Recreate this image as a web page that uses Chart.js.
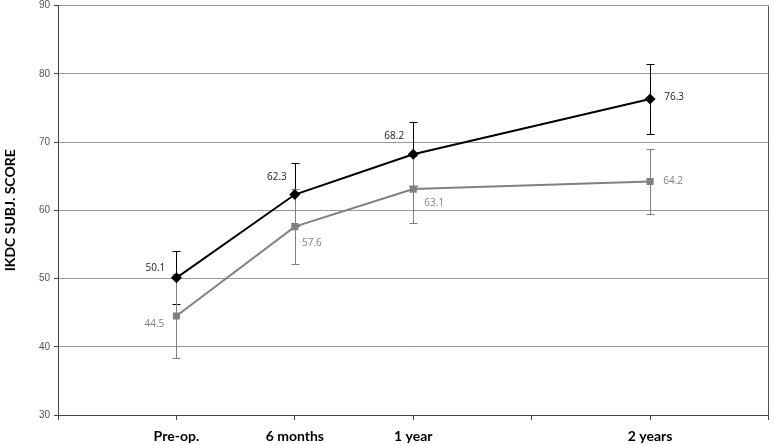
<!DOCTYPE html>
<html>
<head>
<meta charset="utf-8">
<script src="https://cdn.jsdelivr.net/npm/chart.js@4"></script>
<style>
  body { margin: 0; background: #fff; }
  #wrap { width: 774px; height: 445px; position: relative; }
</style>
</head>
<body>
<div id="wrap"><canvas id="chart"></canvas></div>
<script>
// months after surgery, with their axis labels
const months = [0, 6, 12, 24];
const monthLabels = { 0: 'Pre-op.', 6: '6 months', 12: '1 year', 24: '2 years' };

// black series (diamonds)
const scoreA = [50.1, 62.3, 68.2, 76.3];
const errA = [3.9, 4.6, 4.7, 5.1];
// grey series (squares)
const scoreB = [44.5, 57.6, 63.1, 64.2];
const errB = [6.1, 5.5, 4.9, 4.8];

const BLACK = '#000000';
const GREY = '#808080';

// where each value label sits relative to its point (px)
const labelOffsets = [
    [[-21, -10], [-18, -17], [-19, -18], [24, -2]],
    [[-22, 8], [17, 17], [21, 14], [23, 0]]
];

const errorBars = {
    id: 'errorBars',
    beforeDatasetsDraw(chart) {
        const { ctx, scales: { x, y } } = chart;
        const sets = [[scoreA, errA, BLACK], [scoreB, errB, GREY]];
        ctx.save();
        ctx.lineWidth = 1;
        sets.forEach(([vals, errs, col]) => {
            ctx.strokeStyle = col;
            vals.forEach((v, i) => {
                const px = Math.round(x.getPixelForValue(months[i])) + 0.5;
                const top = Math.round(y.getPixelForValue(v + errs[i])) + 0.5;
                const bot = Math.round(y.getPixelForValue(v - errs[i])) + 0.5;
                ctx.beginPath();
                ctx.moveTo(px, top); ctx.lineTo(px, bot);
                ctx.moveTo(px - 4, top); ctx.lineTo(px + 4, top);
                ctx.moveTo(px - 4, bot); ctx.lineTo(px + 4, bot);
                ctx.stroke();
            });
        });
        ctx.restore();
    }
};

const valueLabels = {
    id: 'valueLabels',
    afterDatasetsDraw(chart) {
        const { ctx } = chart;
        ctx.save();
        ctx.font = '10px "Open Sans", sans-serif';
        ctx.textAlign = 'center';
        ctx.textBaseline = 'middle';
        chart.data.datasets.forEach((ds, d) => {
            const meta = chart.getDatasetMeta(d);
            ctx.fillStyle = d === 0 ? '#222' : GREY;
            meta.data.forEach((pt, i) => {
                const off = labelOffsets[d][i];
                ctx.fillText(ds.data[i].y.toFixed(1), pt.x + off[0], pt.y + off[1]);
            });
        });
        ctx.restore();
    }
};

new Chart(document.getElementById('chart'), {
    type: 'line',
    data: {
        datasets: [
            {
                label: 'A',
                data: months.map((m, i) => ({ x: m, y: scoreA[i] })),
                borderColor: BLACK,
                backgroundColor: BLACK,
                borderWidth: 2,
                pointStyle: 'rectRot',
                pointRadius: 5.5,
                pointBorderWidth: 0,
                tension: 0
            },
            {
                label: 'B',
                data: months.map((m, i) => ({ x: m, y: scoreB[i] })),
                borderColor: GREY,
                backgroundColor: GREY,
                borderWidth: 2,
                pointStyle: 'rect',
                pointRadius: 5,
                pointBorderWidth: 0,
                tension: 0
            }
        ]
    },
    options: {
        responsive: true,
        maintainAspectRatio: false,
        animation: false,
        layout: { padding: { top: 4, right: 0, left: 2, bottom: 0 } },
        plugins: {
            legend: { display: false },
            tooltip: { enabled: false }
        },
        scales: {
            x: {
                type: 'linear',
                min: -6,
                max: 30,
                ticks: {
                    stepSize: 6,
                    autoSkip: false,
                    maxRotation: 0,
                    padding: 8,
                    color: '#000',
                    font: { family: 'Lato', size: 14, weight: 'bold' },
                    callback: v => monthLabels[v] || ''
                },
                grid: {
                    color: ctx => (ctx.tick && ctx.tick.value === 30) ? '#555' : 'rgba(0,0,0,0)',
                    tickColor: '#444',
                    tickLength: 5,
                    lineWidth: 1
                },
                border: { color: '#444', width: 1 },
                afterFit: s => { s.height = 30; s.paddingLeft = 0; s.paddingRight = 0; }
            },
            y: {
                min: 30,
                max: 90,
                ticks: {
                    stepSize: 10,
                    padding: 4,
                    color: '#555',
                    font: { family: '"Liberation Sans", Arial', size: 10 }
                },
                grid: {
                    color: '#999',
                    tickColor: '#444',
                    tickLength: 4,
                    lineWidth: 1
                },
                border: { color: '#444', width: 1 },
                title: {
                    display: true,
                    text: 'IKDC SUBJ. SCORE',
                    color: '#000',
                    font: { family: 'Lato', size: 14, weight: 'bold' },
                    padding: { top: 0, bottom: 4 }
                },
                afterFit: s => { s.width = 56; s.paddingTop = 0; s.paddingBottom = 0; }
            }
        }
    },
    plugins: [errorBars, valueLabels]
});
</script>
</body>
</html>
